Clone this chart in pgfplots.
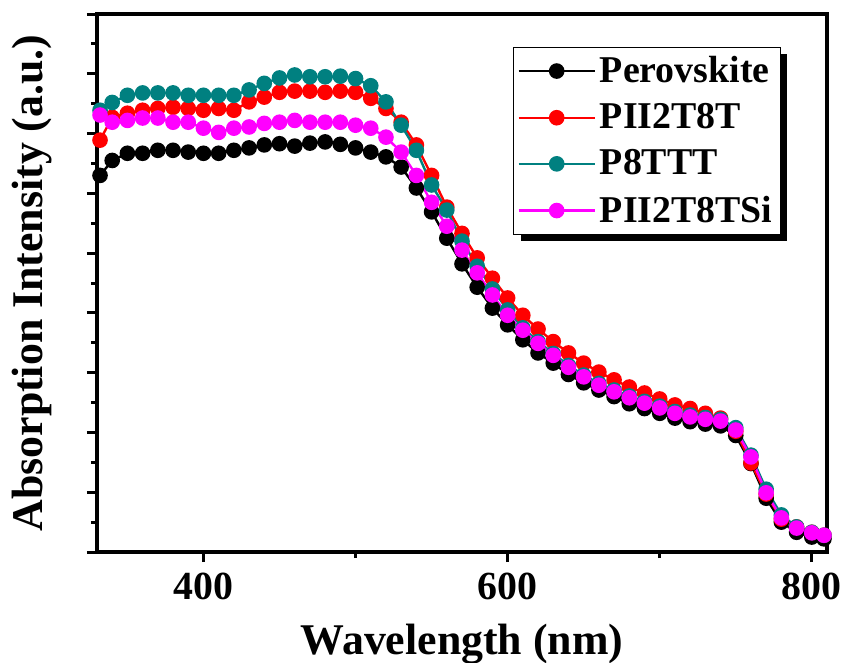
\documentclass[border=0pt]{standalone}
\usepackage{fontspec}
\setmainfont{Liberation Serif}
\usepackage{pgfplots}
\pgfplotsset{compat=1.18}
\usepackage{pgfplotstable}
\usetikzlibrary{shadows}

\definecolor{cteal}{RGB}{0,128,128}
\definecolor{cmag}{RGB}{255,0,255}
\definecolor{cred}{RGB}{255,0,0}

% the legend's drop shadow must not reach the sample lines inside it
\makeatletter
\tikzset{no preactions/.code={\let\tikz@preactions\pgfutil@empty}}
\makeatother

% wavelength (nm), absorption for each film
\pgfplotstableread{
wl   per   pii   p8    pisi
332  6.30  6.89  7.39  7.31
340  6.55  7.27  7.52  7.19
350  6.67  7.34  7.64  7.22
360  6.67  7.39  7.68  7.26
370  6.72  7.42  7.68  7.26
380  6.72  7.44  7.68  7.19
390  6.69  7.42  7.64  7.19
400  6.67  7.39  7.64  7.09
410  6.67  7.42  7.64  7.02
420  6.72  7.39  7.64  7.09
430  6.76  7.53  7.73  7.11
440  6.81  7.61  7.84  7.17
450  6.83  7.69  7.93  7.19
460  6.79  7.71  7.98  7.22
470  6.84  7.71  7.95  7.19
480  6.86  7.69  7.95  7.19
490  6.82  7.71  7.96  7.19
500  6.76  7.69  7.92  7.14
510  6.69  7.59  7.80  7.09
520  6.61  7.42  7.53  6.94
530  6.44  7.19  7.14  6.69
540  6.09  6.81  6.72  6.30
550  5.69  6.30  6.14  5.85
560  5.25  5.77  5.72  5.45
570  4.82  5.33  5.20  5.05
580  4.43  4.92  4.78  4.67
590  4.08  4.58  4.40  4.30
600  3.80  4.25  4.05  3.96
610  3.55  3.96  3.75  3.71
620  3.33  3.73  3.52  3.49
630  3.16  3.52  3.32  3.29
640  2.97  3.33  3.12  3.09
650  2.83  3.16  2.96  2.93
660  2.71  3.01  2.82  2.79
670  2.60  2.88  2.71  2.68
680  2.48  2.76  2.61  2.58
690  2.40  2.66  2.52  2.49
700  2.32  2.56  2.44  2.41
710  2.24  2.46  2.35  2.32
720  2.18  2.40  2.29  2.26
730  2.14  2.32  2.25  2.22
740  2.11  2.24  2.22  2.19
750  1.95  2.02  2.08  2.04
760  1.48  1.49  1.62  1.59
770  0.90  0.97  1.05  0.99
780  0.50  0.55  0.62  0.57
790  0.33  0.42  0.42  0.40
800  0.25  0.33  0.33  0.32
808  0.22  0.28  0.28  0.28
}\absdata

\begin{document}
\begin{tikzpicture}
\begin{axis}[
    at={(0,0)}, anchor=south west,
    scale only axis,
    width=365bp, height=269bp,
    xmin=330, xmax=810,
    ymin=0, ymax=9,
    xtick={400,600,800},
    minor xtick={500,700},
    ytick={0,1,...,9},
    minor ytick={0.5,1.5,...,8.5},
    yticklabels={},
    xtick pos=bottom, ytick pos=left,
    tick align=outside,
    major tick length=5bp, minor tick length=3bp,
    every tick/.style={black, line width=1.5bp},
    axis line style={line width=2bp},
    /pgf/number format/assume math mode=true,
    tick label style={font=\fontsize{20}{24}\selectfont\bfseries},
    xticklabel style={yshift=-2bp},
    xlabel={Wavelength (nm)},
    ylabel={Absorption Intensity (a.u.)},
    label style={font=\fontsize{22}{26}\selectfont\bfseries},
    xlabel style={at={(axis description cs:0.5,0)}, anchor=base, yshift=-51bp},
    ylabel style={at={(axis description cs:0,0.5)}, anchor=center, yshift=32.5bp},
    legend cell align=left,
    legend style={
      at={(0.937,0.939)}, anchor=north east,
      draw=black, line width=0.6bp, fill=white,
      drop shadow={shadow xshift=3.5bp, shadow yshift=-3.5bp, fill=black, opacity=1},
      font=\fontsize{19}{21}\selectfont\bfseries,
      row sep=5bp, inner xsep=2bp, inner ysep=2.5bp,
    },
    legend image code/.code={
      \draw[no preactions, mark repeat=2, mark phase=2, #1]
        plot coordinates {(0bp,0bp) (19bp,0bp) (38bp,0bp)};
    },
    every axis plot/.append style={line width=1.2bp, mark=*, mark size=3.3bp},
  ]
  \addplot[black, mark options={fill=black}] table[x=wl, y=per] {\absdata};
  \addlegendentry{Perovskite}
  \addplot[cred, mark options={fill=cred}] table[x=wl, y=pii] {\absdata};
  \addlegendentry{PII2T8T}
  \addplot[cteal, mark options={fill=cteal}] table[x=wl, y=p8] {\absdata};
  \addlegendentry{P8TTT}
  \addplot[cmag, mark options={fill=cmag}] table[x=wl, y=pisi] {\absdata};
  \addlegendentry{PII2T8TSi}
\end{axis}
\pgfresetboundingbox
\useasboundingbox (-48.5bp,-55.5bp) rectangle (372.5bp,276bp);
\end{tikzpicture}
\end{document}
